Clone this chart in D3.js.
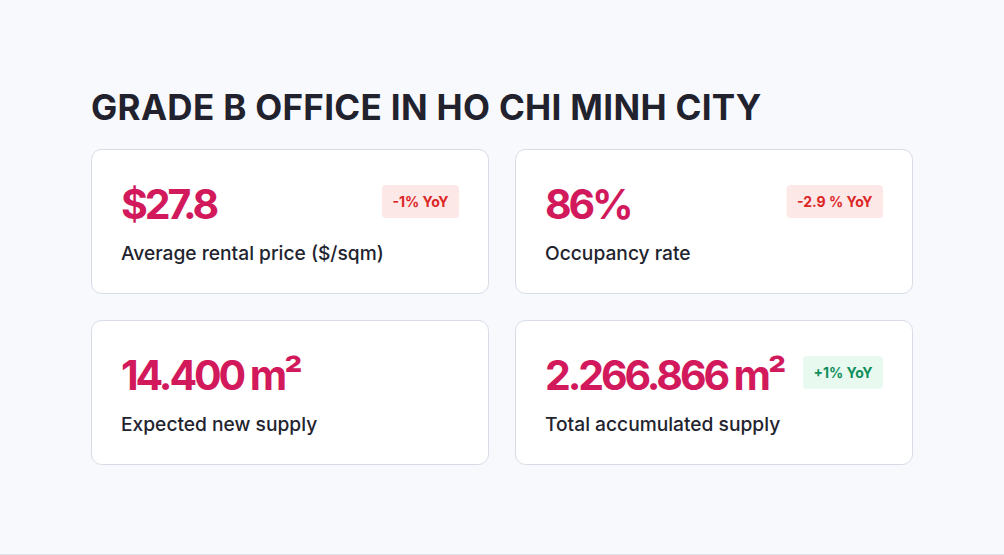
<!DOCTYPE html>
<html>
<head>
<meta charset="utf-8">
<script src="https://cdn.jsdelivr.net/npm/d3@7"></script>
<style>
  html, body { margin: 0; padding: 0; background: #f8f9fd; }
  svg { display: block; font-family: Inter, "Noto Sans", sans-serif; }
</style>
</head>
<body>
<svg id="chart"></svg>
<script>
const w = 1004;
const h = 555;

// card data
const title = "GRADE B OFFICE IN HO CHI MINH CITY";
const values = ["$27.8", "86%", "14.400 m²", "2.266.866 m²"];
const labels = ["Average rental price ($/sqm)", "Occupancy rate", "Expected new supply", "Total accumulated supply"];
const changes = ["-1% YoY", "-2.9 % YoY", "", "+1% YoY"];
const trends = ["down", "down", "", "up"];

const cols = [0, 1];
const rows = [0, 1];

let svg = d3.select("#chart").attr("width", w).attr("height", h);

svg.append("rect").attr("width", w).attr("height", h).attr("fill", "#f8f9fd");
svg.append("line")//thin line at bottom of page
  .attr("x1", 0).attr("x2", w).attr("y1", h - 0.5).attr("y2", h - 0.5)
  .attr("stroke", "#dde3ea");

svg.append("text")
  .attr("x", 91).attr("y", 120)
  .attr("font-size", 35).attr("font-weight", 700)
  .attr("letter-spacing", 0.32)
  .attr("fill", "#21222d")
  .text(title);

let xScale = d3.scaleBand().domain(cols).range([91, 913]).paddingInner(26 / 424);
let yScale = d3.scaleBand().domain(rows).range([149, 465]).paddingInner(26 / 171);

const cardW = xScale.bandwidth();
const cardH = yScale.bandwidth();

let cards = svg.selectAll("g.card")
  .data(values.map((v, i) => ({ value: v, label: labels[i], change: changes[i], trend: trends[i], i: i })))
  .enter()
  .append("g")
  .attr("class", "card")
  .attr("transform", d => "translate(" + xScale(d.i % 2) + "," + yScale(Math.floor(d.i / 2)) + ")");

cards.append("rect")
  .attr("x", 0.5).attr("y", 0.5)
  .attr("width", cardW - 1).attr("height", cardH - 1)
  .attr("rx", 10)
  .attr("fill", "#ffffff")
  .attr("stroke", "#d6dbe6");

cards.append("text")
  .attr("x", 30).attr("y", 69.5)
  .attr("font-size", 41).attr("font-weight", 700)
  .attr("letter-spacing", -3.1)
  .attr("fill", "#d1195b")
  .text(d => d.value);

cards.append("text")
  .attr("x", 30).attr("y", 111)
  .attr("font-size", 19.2).attr("font-weight", 500)
  .attr("fill", "#22232e")
  .text(d => d.label);

let badges = cards.filter(d => d.change !== "").append("g");

badges.each(function (d) {
  let g = d3.select(this);
  let t = g.append("text")
    .attr("font-size", 14).attr("font-weight", 700)
    .attr("fill", d.trend === "up" ? "#0f8f5a" : "#dc2626")
    .attr("text-anchor", "middle")
    .text(d.change);
  let tw = t.node().getComputedTextLength();
  let bw = tw + 21;
  let bx = cardW - 30 - bw;
  g.insert("rect", "text")
    .attr("x", bx).attr("y", 36)
    .attr("width", bw).attr("height", 33)
    .attr("rx", 4)
    .attr("fill", d.trend === "up" ? "#e8f9f0" : "#fde8e8");
  t.attr("x", bx + bw / 2).attr("y", 57.5);
});
</script>
</body>
</html>
